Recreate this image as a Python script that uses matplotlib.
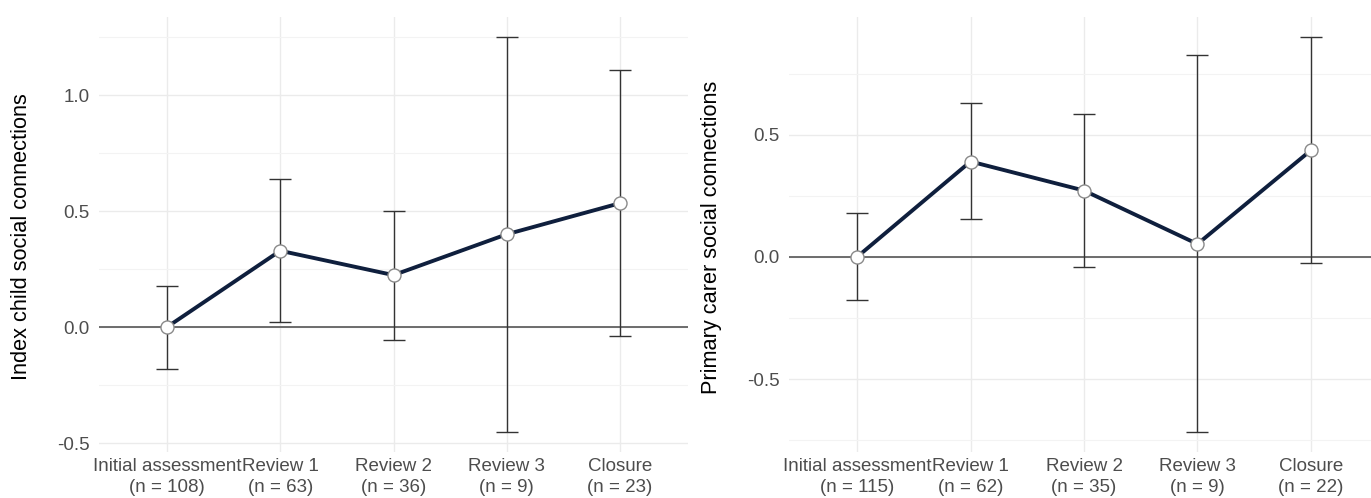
import matplotlib
matplotlib.use("Agg")
import matplotlib.pyplot as plt
from matplotlib.ticker import MultipleLocator, FuncFormatter
import numpy as np

plt.rcParams['font.family'] = ['Liberation Sans', 'DejaVu Sans']

stages = ["Initial assessment", "Review 1", "Review 2", "Review 3", "Closure"]

# Index child
child_n = [108, 63, 36, 9, 23]
child_mean = [0.0, 0.329, 0.224, 0.40, 0.534]
child_low = [-0.182, 0.023, -0.055, -0.453, -0.037]
child_high = [0.178, 0.637, 0.501, 1.251, 1.106]

# Primary carer
carer_n = [115, 62, 35, 9, 22]
carer_mean = [0.0, 0.391, 0.272, 0.053, 0.437]
carer_low = [-0.177, 0.156, -0.041, -0.718, -0.026]
carer_high = [0.180, 0.629, 0.584, 0.827, 0.902]

LINE_COL = "#0f1f3d"
TICK_COL = "#4d4d4d"

fig = plt.figure(figsize=(13.71, 4.98), dpi=100)


def panel(rect, mean, low, high, ns, ylabel, label_x):
    ax = fig.add_axes(rect)
    x = np.arange(len(stages))
    mean = np.asarray(mean)
    yerr = [mean - np.asarray(low), np.asarray(high) - mean]

    ax.axhline(0, color="#555555", lw=1.2, zorder=2)
    ax.errorbar(x, mean, yerr=yerr, fmt="none", ecolor="#333333",
                elinewidth=1.0, capsize=8, capthick=1.0, zorder=3)
    ax.plot(x, mean, color=LINE_COL, lw=2.8, zorder=4,
            solid_capstyle="round")
    ax.plot(x, mean, linestyle="none", marker="o", markersize=9.4,
            markerfacecolor="white", markeredgecolor="#8a8a8a",
            markeredgewidth=1.0, zorder=5)

    ax.set_xlim(-0.6, len(stages) - 0.4)
    ax.margins(y=0.05)

    ax.set_xticks(x)
    ax.set_xticklabels([f"{s}\n(n = {n})" for s, n in zip(stages, ns)],
                       linespacing=1.35)
    ax.yaxis.set_major_locator(MultipleLocator(0.5))
    ax.yaxis.set_minor_locator(MultipleLocator(0.25))
    ax.yaxis.set_major_formatter(FuncFormatter(lambda v, p: f"{v:.1f}"))

    ax.tick_params(axis="both", which="both", length=0, labelsize=13.5,
                   labelcolor=TICK_COL)
    ax.tick_params(axis="y", pad=6.5)
    ax.tick_params(axis="x", pad=4)

    ax.grid(True, which="major", color="#ebebeb", lw=1.0, zorder=0)
    ax.grid(True, which="minor", axis="y", color="#f3f3f3", lw=0.8, zorder=0)
    ax.set_axisbelow(True)
    for sp in ax.spines.values():
        sp.set_visible(False)

    fig.text(label_x, (498 - 237) / 498, ylabel, rotation=90,
             ha="center", va="center", fontsize=15.7, color="black")
    return ax


bottom = (498 - 452) / 498
height = 435 / 498
panel([99 / 1371, bottom, 589 / 1371, height], child_mean, child_low,
      child_high, child_n, "Index child social connections", 22 / 1371)
panel([789 / 1371, bottom, 590 / 1371, height], carer_mean, carer_low,
      carer_high, carer_n, "Primary carer social connections", 712 / 1371)

fig.savefig("out.png", dpi=100)
